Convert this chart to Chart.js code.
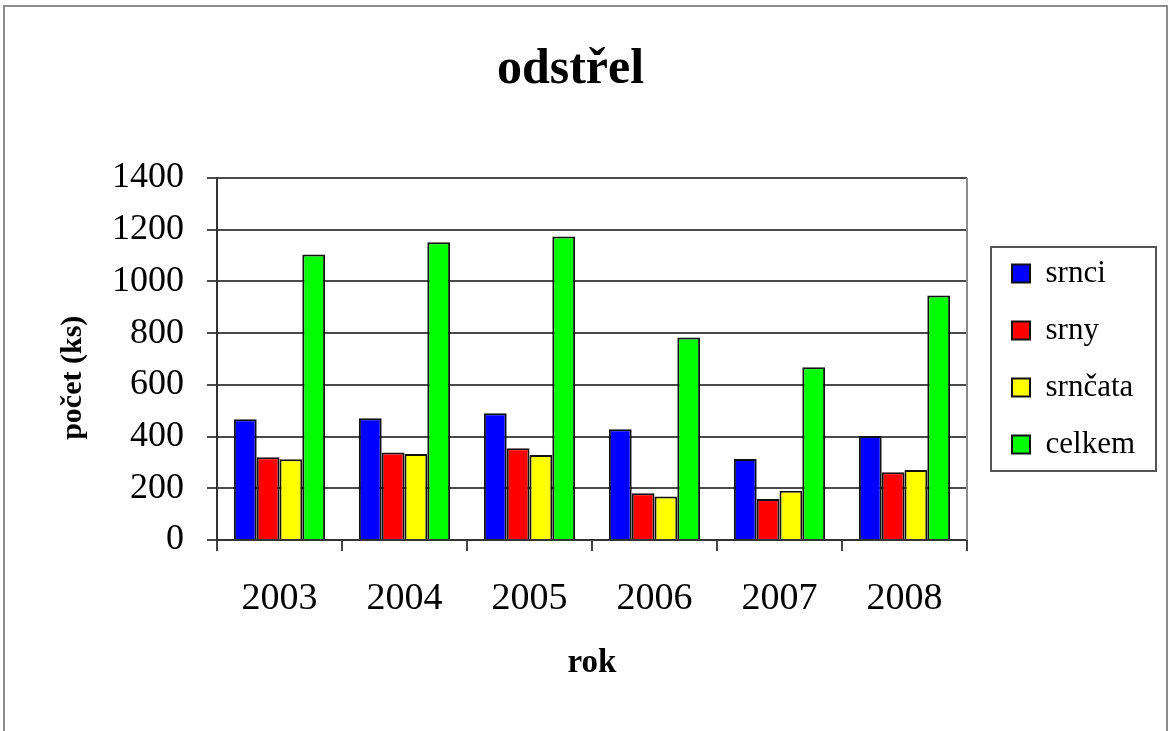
<!DOCTYPE html>
<html>
<head>
<meta charset="utf-8">
<title>odstřel</title>
<script src="https://cdn.jsdelivr.net/npm/chart.js@4.4.1/dist/chart.umd.min.js"></script>
<style>
    body { margin: 0; background: #fff; }
    canvas { display: block; }
</style>
</head>
<body>
<canvas id="odstrelChart" width="1172" height="731"></canvas>
<script>
var roky = ["2003", "2004", "2005", "2006", "2007", "2008"];
var srnci = [467, 471, 490, 428, 313, 402];
var srny = [320, 338, 355, 181, 159, 262];
var srncata = [312, 333, 329, 168, 190, 271];
var celkem = [1104, 1152, 1174, 783, 668, 946];

var serif = 'Liberation Serif';
Chart.defaults.color = '#000';
Chart.defaults.font.family = serif;

// ramecek okolo obrazku, okraj grafu a ramecek legendy
var ramecky = {
    id: 'ramecky',
    beforeDraw: function (chart) {
        var ctx = chart.ctx;
        ctx.save();
        ctx.fillStyle = '#fff';
        ctx.fillRect(0, 0, chart.width, chart.height);
        ctx.strokeStyle = '#8c8c8c';
        ctx.lineWidth = 2;
        ctx.strokeRect(4, 6, chart.width - 9, chart.height + 20);
        ctx.restore();
    },
    afterDraw: function (chart) {
        var ctx = chart.ctx;
        var a = chart.chartArea;
        ctx.save();
        ctx.strokeStyle = '#8c8c8c';
        ctx.lineWidth = 2;
        ctx.beginPath();
        ctx.moveTo(a.right, a.top);
        ctx.lineTo(a.right, a.bottom);
        ctx.stroke();
        var boxes = chart.legend.legendHitBoxes;
        if (boxes.length) {
            var first = boxes[0];
            var last = boxes[boxes.length - 1];
            ctx.strokeStyle = '#555';
            ctx.strokeRect(first.left - 21, first.top - 11, 165, last.top + last.height - first.top + 22);
        }
        ctx.restore();
    }
};

var canvas = document.getElementById("odstrelChart");
var odstrelChart = new Chart(canvas, {
    type: 'bar',
    data: {
        labels: roky,
        datasets: [{
            label: 'srnci',
            data: srnci,
            backgroundColor: '#0000ff'
        }, {
            label: 'srny',
            data: srny,
            backgroundColor: '#ff0000'
        }, {
            label: 'srnčata',
            data: srncata,
            backgroundColor: '#ffff00'
        }, {
            label: 'celkem',
            data: celkem,
            backgroundColor: '#00ff00'
        }]
    },
    options: {
        responsive: false,
        animation: false,
        devicePixelRatio: 1,
        layout: {
            padding: { left: 0, right: 31, top: 0, bottom: 0 }
        },
        datasets: {
            bar: {
                borderColor: '#111',
                borderWidth: 2,
                categoryPercentage: 0.73,
                barPercentage: 1
            }
        },
        plugins: {
            title: {
                display: true,
                text: 'odstřel',
                font: { family: serif, size: 50, weight: 'bold' },
                padding: { top: 40, bottom: 78 }
            },
            legend: {
                position: 'right',
                fullSize: false,
                maxWidth: 155,
                labels: {
                    boxWidth: 18,
                    boxHeight: 18,
                    padding: 26,
                    color: '#000',
                    font: { family: 'Liberation Serif', size: 31, weight: 'normal' }
                }
            },
            tooltip: { enabled: false }
        },
        scales: {
            x: {
                afterFit: function (scale) { scale.height = 191; },
                grid: {
                    offset: true,
                    drawOnChartArea: false,
                    drawTicks: true,
                    tickLength: 11,
                    color: '#444',
                    lineWidth: 2
                },
                border: { color: '#333', width: 2 },
                ticks: {
                    padding: 25,
                    font: { family: serif, size: 38 }
                },
                title: {
                    display: true,
                    text: 'rok',
                    font: { family: serif, size: 33, weight: 'bold' },
                    padding: { top: 0, bottom: 48 }
                }
            },
            y: {
                min: 0,
                max: 1400,
                afterFit: function (scale) { scale.width = 217; },
                ticks: {
                    stepSize: 200,
                    padding: 23,
                    font: { family: serif, size: 36 },
                    callback: function (value) { return String(value); }
                },
                grid: {
                    color: '#4a4a4a',
                    lineWidth: 2,
                    tickLength: 10
                },
                border: { color: '#333', width: 2 },
                title: {
                    display: true,
                    // mezery na konci posunou popisek dolu jako v predloze
                    text: 'počet (ks)     ',
                    font: { family: serif, size: 30, weight: 'bold' },
                    padding: { top: 55, bottom: 0 }
                }
            },
            y2: {
                position: 'right',
                display: true,
                afterFit: function (scale) { scale.width = 19; },
                grid: { display: false },
                border: { display: false },
                ticks: { display: false }
            }
        }
    },
    plugins: [ramecky]
});
</script>
</body>
</html>
